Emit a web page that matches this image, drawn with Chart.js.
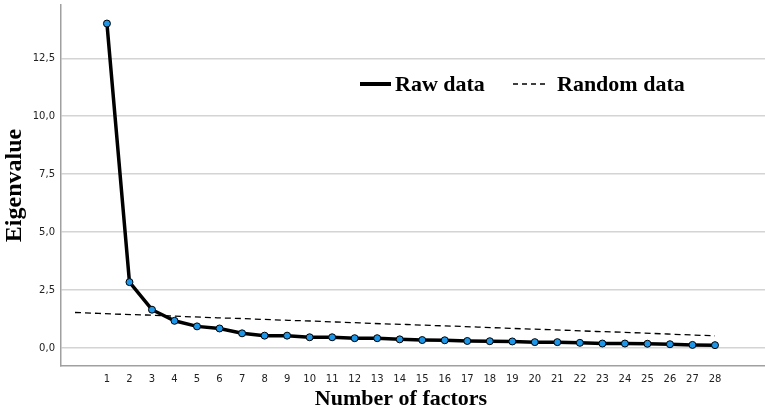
<!DOCTYPE html>
<html>
<head>
<meta charset="utf-8">
<title>Scree plot</title>
<script src="https://cdn.jsdelivr.net/npm/chart.js@4.4.1/dist/chart.umd.min.js"></script>
<style>
	html, body { margin:0; padding:0; background:#fff; }
	#wrap { width:765px; height:412px; }
</style>
</head>
<body>
<div id="wrap"><canvas id="plot"></canvas></div>
<script>
	// factor numbers and eigenvalues
	factors = [1,2,3,4,5,6,7,8,9,10,11,12,13,14,15,16,17,18,19,20,21,22,23,24,25,26,27,28];
	rawData = [14.0,2.84,1.65,1.17,0.93,0.84,0.63,0.53,0.53,0.46,0.46,0.42,0.42,0.37,0.34,0.33,0.30,0.29,0.28,0.25,0.25,0.22,0.19,0.19,0.18,0.16,0.13,0.12];
	randomData = [1.53,1.49,1.45,1.42,1.38,1.34,1.30,1.27,1.23,1.19,1.16,1.12,1.08,1.04,1.01,0.97,0.94,0.90,0.86,0.82,0.79,0.75,0.71,0.68,0.64,0.60,0.56,0.52];
	yTicks = [0,2.5,5,7.5,10,12.5];
	seriesNames = ["Raw data","Random data"];
	xTitle = "Number of factors";

	serif = "'Liberation Serif', 'DejaVu Serif', serif";

	// legend (inside the plot) and x title, drawn like the SPSS output
	legendPlugin = {
		id: 'insideLegend',
		afterDraw: function(chart){
			var ctx = chart.ctx;
			ctx.save();
			ctx.strokeStyle = '#000';
			ctx.lineWidth = 4;
			ctx.beginPath(); ctx.moveTo(360,84); ctx.lineTo(391,84); ctx.stroke();
			ctx.lineWidth = 1.3;
			ctx.setLineDash([5,4]);
			ctx.beginPath(); ctx.moveTo(513,84); ctx.lineTo(545,84); ctx.stroke();
			ctx.setLineDash([]);
			ctx.fillStyle = '#000';
			ctx.font = "bold 22px " + serif;
			ctx.textBaseline = 'alphabetic';
			ctx.fillText(seriesNames[0], 395, 91);
			ctx.fillText(seriesNames[1], 557, 91);
			ctx.textAlign = 'center';
			ctx.fillText(xTitle, 401, 405);
			ctx.restore();
		}
	};

	const data = {
		datasets: [{
			label: seriesNames[0],
			data: factors.map((f,i)=>({x:f, y:rawData[i]})),
			borderColor: '#000',
			borderWidth: 3.5,
			pointRadius: 3.5,
			pointBackgroundColor: '#1e96e8',
			pointBorderColor: '#000',
			pointBorderWidth: 1,
			tension: 0,
			xAxisID: 'x',
			order: 1
		},{
			label: seriesNames[1],
			data: factors.map((f,i)=>({x:f, y:randomData[i]})),
			borderColor: '#000',
			borderWidth: 1.3,
			borderDash: [6,4],
			pointRadius: 0,
			tension: 0,
			xAxisID: 'x2',
			order: 2
		}]
	};

	const config = {
		type: 'line',
		data: data,
		options: {
			responsive: true,
			maintainAspectRatio: false,
			animation: false,
			layout: { autoPadding: false, padding: { top: 5, right: 0, left: 0, bottom: 0 } },
			plugins: {
				legend: { display: false },
				tooltip: { enabled: false }
			},
			scales: {
				x: {
					type: 'linear',
					min: -1.04,
					max: 30.22,
					afterBuildTicks: function(scale){ scale.ticks = factors.map(v=>({value:v})); },
					afterFit: function(scale){ scale.height = 46; scale.paddingLeft = 0; scale.paddingRight = 0; },
					grid: { display: false, drawTicks: false },
					border: { display: true, color: '#a0a0a0', width: 1.5 },
					ticks: {
						autoSkip: false,
						maxRotation: 0,
						padding: 7,
						color: '#222',
						font: { family: "'DejaVu Sans', sans-serif", size: 10 }
					}
				},
				x2: {
					type: 'linear',
					display: false,
					min: 0.41,
					max: 30.11
				},
				y: {
					min: -0.78,
					max: 14.8,
					afterBuildTicks: function(scale){ scale.ticks = yTicks.map(v=>({value:v})); },
					afterFit: function(scale){ scale.width = 61; scale.paddingTop = 0; scale.paddingBottom = 0; },
					grid: { color: '#d4d4d4', lineWidth: 1.5, drawTicks: false },
					border: { display: true, color: '#a0a0a0', width: 1.5 },
					ticks: {
						padding: 6,
						color: '#222',
						font: { family: "'DejaVu Sans', sans-serif", size: 10 },
						callback: function(v){ return v.toFixed(1).replace('.', ','); }
					},
					title: {
						display: true,
						text: 'Eigenvalue',
						color: '#000',
						padding: 0,
						font: { family: serif, size: 24, weight: 'bold' }
					}
				}
			}
		},
		plugins: [legendPlugin]
	};
	plot = document.getElementById("plot");
	const myChart = new Chart(plot, config);
</script>
</body>
</html>
